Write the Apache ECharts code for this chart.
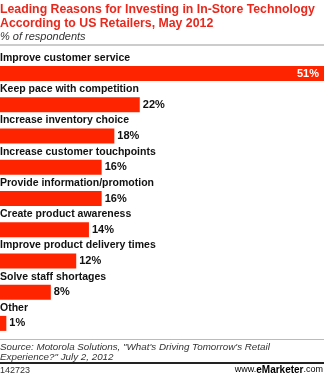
<!DOCTYPE html>
<html>
<head>
<meta charset="utf-8">
<script src="https://cdn.jsdelivr.net/npm/echarts@6/dist/echarts.min.js"></script>
<style>html,body{margin:0;padding:0;background:#fff;}#c{width:324px;height:376px;}</style>
</head>
<body>
<div id="c"></div>
<script>
var categories = [
  "Improve customer service",
  "Keep pace with competition",
  "Increase inventory choice",
  "Increase customer touchpoints",
  "Provide information/promotion",
  "Create product awareness",
  "Improve product delivery times",
  "Solve staff shortages",
  "Other"
];
var values = [51, 22, 18, 16, 16, 14, 12, 8, 1];

var chart = echarts.init(document.getElementById('c'), null, {renderer: 'canvas'});
var FONT = 'Liberation Sans';
var data = values.map(function (v, i) {
  var d = {value: v};
  if (i === 0) {
    d.label = {position: 'insideRight', color: '#fff', distance: 5};
  }
  return d;
});
chart.setOption({
  animation: false,
  backgroundColor: '#fff',
  title: [{
    text: 'Leading Reasons for Investing in In-Store Technology\nAccording to US Retailers, May 2012',
    left: 0, top: 3, padding: 0,
    textStyle: {fontFamily: FONT, fontWeight: 'bold', fontSize: 12.3, color: '#e8281c', lineHeight: 14}
  }, {
    text: '% of respondents',
    left: 0, top: 31, padding: 0,
    textStyle: {fontFamily: FONT, fontStyle: 'italic', fontWeight: 'normal', fontSize: 11, color: '#333'}
  }],
  grid: {left: 0, right: 0, top: 58, bottom: 37, containLabel: false, outerBoundsMode: 'none'},
  xAxis: {type: 'value', min: 0, max: 51, show: false},
  yAxis: {
    type: 'category', data: categories, inverse: true,
    axisLine: {show: false}, axisTick: {show: false}, splitLine: {show: false},
    axisLabel: {
      inside: true, align: 'left', verticalAlign: 'bottom', margin: 0,
      padding: [0, 0, 10, 0],
      fontFamily: FONT, fontWeight: 'bold', fontSize: 10.5, color: '#111'
    }
  },
  series: [{
    type: 'bar',
    data: data,
    barWidth: 15,
    itemStyle: {color: '#ff2400'},
    label: {
      show: true, position: 'right', distance: 3,
      formatter: '{c}%',
      fontFamily: FONT, fontWeight: 'bold', fontSize: 11, color: '#111'
    }
  }],
  graphic: [
    {type: 'rect', shape: {x: 0, y: 44, width: 324, height: 2}, style: {fill: '#cccccc'}},
    {type: 'rect', shape: {x: 0, y: 339, width: 324, height: 1}, style: {fill: '#bbbbbb'}},
    {type: 'rect', shape: {x: 0, y: 362, width: 324, height: 2}, style: {fill: '#222222'}},
    {type: 'text', left: 0, top: 342, style: {
      text: 'Source: Motorola Solutions, "What\'s Driving Tomorrow\'s Retail\nExperience?" July 2, 2012',
      font: 'italic 9.8px ' + FONT, fill: '#333', lineHeight: 10.5
    }},
    {type: 'text', left: 0, top: 366, style: {text: '142723', font: '9px ' + FONT, fill: '#333'}},
    {type: 'text', right: 1, top: 365, style: {
      text: '{a|www.}{b|e}{c|Marketer}{a|.com}',
      rich: {
        a: {fontFamily: FONT, fontSize: 9, color: '#333'},
        b: {fontFamily: FONT, fontSize: 10, fontWeight: 'bold', color: '#e8281c'},
        c: {fontFamily: FONT, fontSize: 10, fontWeight: 'bold', color: '#222'}
      }
    }}
  ]
});
</script>
</body>
</html>
